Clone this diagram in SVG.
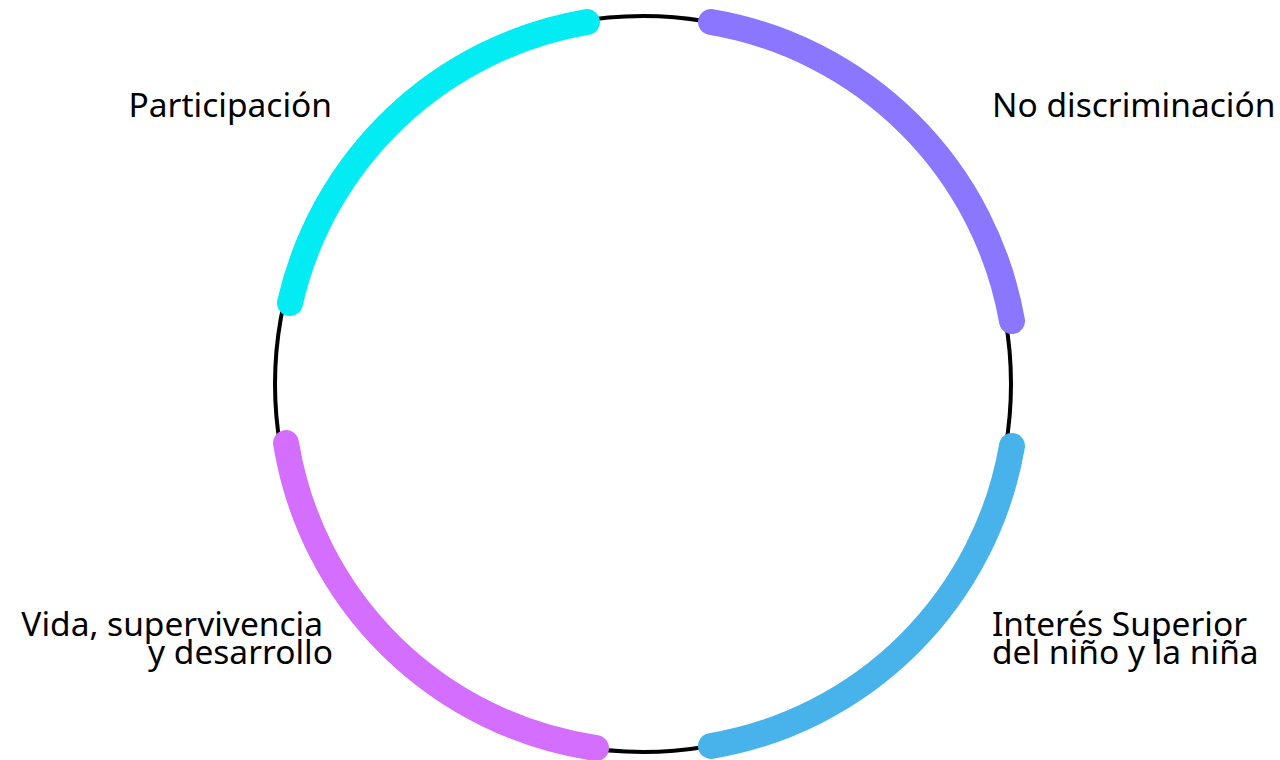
<svg xmlns="http://www.w3.org/2000/svg" width="1280" height="760" viewBox="0 0 1280 760">
<style>
.ring{fill:none;stroke:#000;stroke-width:4}
.arc{fill:none;stroke-width:26;stroke-linecap:round}
.lbl{font-family:"Noto Sans","Liberation Sans",sans-serif;font-size:33.5px;fill:#000}
</style>
<rect width="1280" height="760" fill="#fff"/>
<g id="connectors">
<circle class="ring" cx="643" cy="384" r="368"/>
</g>
<g id="participacion">
<path class="arc" stroke="#03ECF4" d="M290,303 A368,368 0 0 1 587,22"/>
<text class="lbl" x="332" y="117" text-anchor="end">Participación</text>
</g>
<g id="no-discriminacion">
<path class="arc" stroke="#8A76FF" d="M711,22 A368,368 0 0 1 1012,321"/>
<text class="lbl" x="992" y="117">No discriminación</text>
</g>
<g id="interes-superior">
<path class="arc" stroke="#48B3EA" d="M1012,446 A368,368 0 0 1 711,746"/>
<text class="lbl" x="992" y="636">Interés Superior</text>
<text class="lbl" x="992" y="664">del niño y la niña</text>
</g>
<g id="vida">
<path class="arc" stroke="#D46EFE" d="M596,748 A368,368 0 0 1 286,443"/>
<text class="lbl" x="323" y="636" text-anchor="end">Vida, supervivencia</text>
<text class="lbl" x="333" y="664" text-anchor="end">y desarrollo</text>
</g>
</svg>
